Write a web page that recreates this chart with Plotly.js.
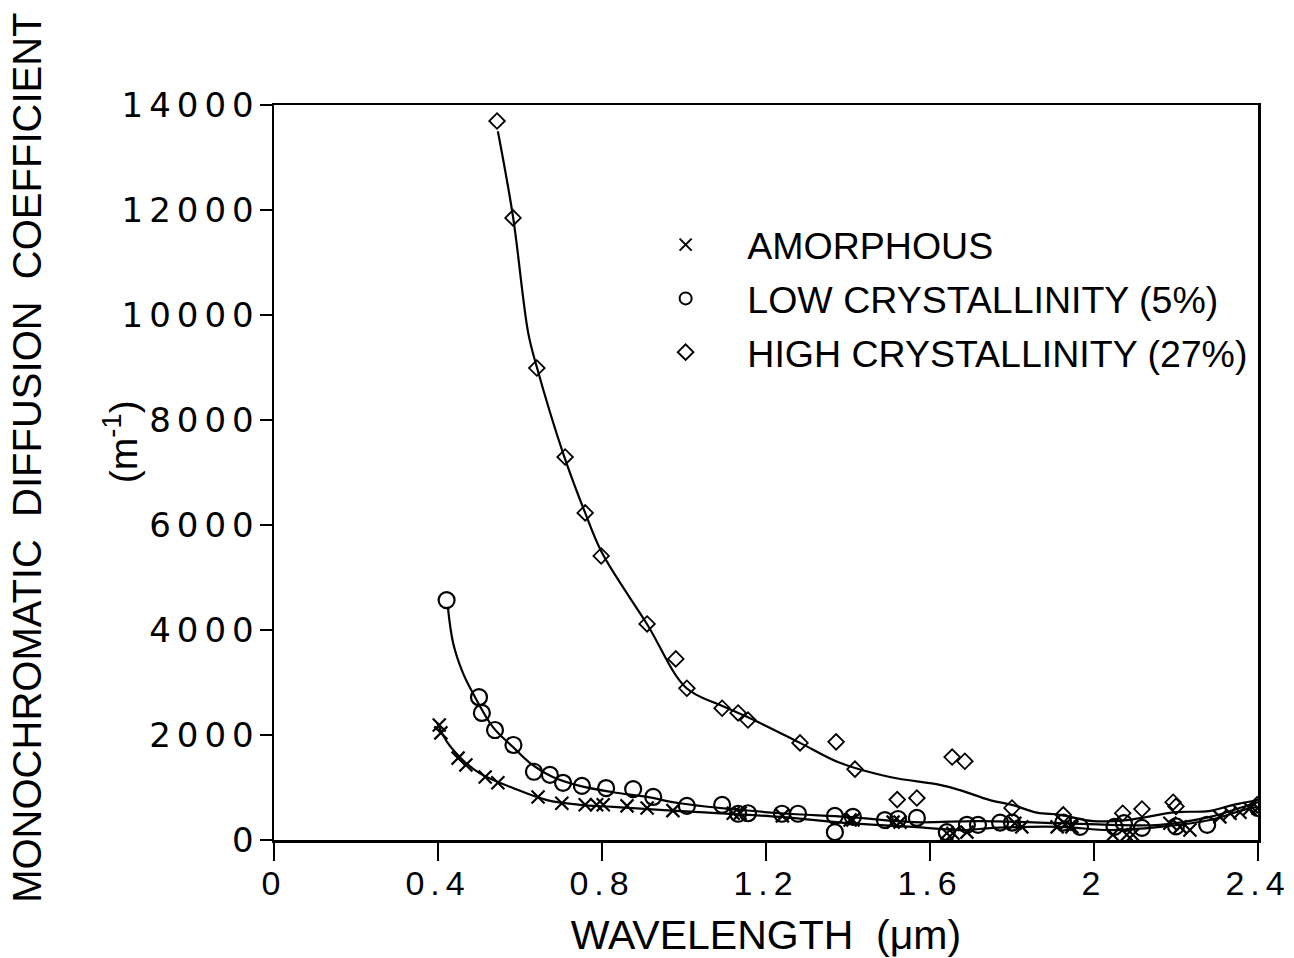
<!DOCTYPE html>
<html>
<head>
<meta charset="utf-8">
<script src="https://cdn.plot.ly/plotly-3.0.1.min.js"></script>
<style>
html,body{margin:0;padding:0;background:#fff;}
#chart{width:1294px;height:958px;}
.ytick text{letter-spacing:6px;}
.xtick text{letter-spacing:6px;}
</style>
</head>
<body>
<div id="chart"></div>
<script>
// Measured points
const amorphousX = [0.403,0.407,0.449,0.468,0.515,0.546,0.644,0.702,0.759,0.787,0.803,0.861,0.91,0.973,1.12,1.137,1.24,1.405,1.412,1.51,1.527,1.641,1.656,1.69,1.807,1.824,1.91,1.93,1.946,2.046,2.08,2.095,2.185,2.21,2.234,2.307,2.332,2.356,2.38,2.4];
const amorphousY = [2190,2040,1560,1430,1200,1090,820,700,670,670,670,650,610,560,510,510,460,380,380,340,340,130,130,150,320,250,250,300,250,100,100,100,320,250,190,440,510,530,600,610];

const lowX = [0.421,0.5,0.507,0.539,0.584,0.634,0.673,0.705,0.751,0.81,0.876,0.925,1.007,1.093,1.132,1.156,1.239,1.278,1.368,1.368,1.412,1.49,1.522,1.568,1.641,1.69,1.717,1.771,1.80,1.925,1.966,2.05,2.073,2.117,2.2,2.276,2.4];
const lowY = [4570,2720,2420,2095,1810,1300,1240,1090,1030,990,970,820,650,670,500,510,500,500,460,150,440,380,400,420,150,290,290,330,330,330,250,250,320,230,260,290,610];

const highX = [0.544,0.583,0.641,0.71,0.759,0.798,0.91,0.98,1.007,1.093,1.132,1.156,1.283,1.371,1.417,1.52,1.568,1.654,1.685,1.80,1.925,2.07,2.117,2.193,2.2,2.398];
const highY = [13695,11850,8990,7295,6230,5410,4115,3450,2890,2510,2420,2285,1850,1870,1350,770,800,1580,1500,610,480,510,590,720,640,670];

// Fitted curves
const highFitX = [0.546,0.583,0.62,0.641,0.705,0.759,0.8,0.91,1.005,1.088,1.161,1.283,1.38,1.502,1.624,1.673,1.746,1.80,1.861,1.917,1.998,2.08,2.2,2.28,2.34,2.4];
const highFitY = [13500,11870,9660,9010,7370,6230,5470,4110,2900,2570,2320,1850,1470,1200,1050,950,760,670,520,480,360,380,530,550,670,760];

const lowFitX = [0.424,0.437,0.461,0.485,0.534,0.583,0.624,0.68,0.746,0.827,0.91,0.99,1.234,1.398,1.559,1.722,1.917,2.039,2.161,2.283,2.363,2.4];
const lowFitY = [4440,3750,3180,2800,2150,1770,1470,1200,1030,910,820,700,510,440,340,360,320,290,290,440,630,720];

const amorphousFitX = [0.398,0.422,0.461,0.502,0.583,0.666,0.746,0.827,0.99,1.234,1.398,1.559,1.68,1.754,1.917,2.039,2.161,2.283,2.363,2.4];
const amorphousFitY = [2230,1870,1520,1270,990,760,670,630,550,440,320,250,190,230,250,190,250,380,570,630];

const seriesNames = ['AMORPHOUS','LOW CRYSTALLINITY (5%)','HIGH CRYSTALLINITY (27%)'];
const xTicks = [0,0.4,0.8,1.2,1.6,2,2.4];
const yTicks = [0,2000,4000,6000,8000,10000,12000,14000];

const fitLine = {color:'#000', width:2.2, shape:'spline', smoothing:1};
const pad = '\u00a0\u00a0\u00a0\u00a0';

const traces = [
  {x:amorphousFitX, y:amorphousFitY, mode:'lines', line:fitLine, showlegend:false, hoverinfo:'skip'},
  {x:lowFitX, y:lowFitY, mode:'lines', line:fitLine, showlegend:false, hoverinfo:'skip'},
  {x:highFitX, y:highFitY, mode:'lines', line:fitLine, showlegend:false, hoverinfo:'skip'},
  {x:amorphousX, y:amorphousY, mode:'markers', name:pad+seriesNames[0], legendgroup:'a',
   marker:{symbol:'x-thin-open', size:13, color:'#000', line:{color:'#000', width:2.2}}},
  {x:lowX, y:lowY, mode:'markers', name:pad+seriesNames[1], legendgroup:'b',
   marker:{symbol:'circle-open', size:16, color:'#000', line:{color:'#000', width:2.2}}},
  {x:highX, y:highY, mode:'markers', name:pad+seriesNames[2], legendgroup:'c',
   marker:{symbol:'diamond-open', size:12, color:'#000', line:{color:'#000', width:1.8}}}
];

const layout = {
  width:1294, height:958,
  margin:{l:274, r:36, t:105, b:118},
  paper_bgcolor:'#fff', plot_bgcolor:'#fff',
  font:{family:'Liberation Sans, Arial, sans-serif', color:'#000'},
  showlegend:true,
  legend:{x:0.398, y:0.852, xanchor:'left', yanchor:'top', bgcolor:'rgba(0,0,0,0)',
    font:{family:'Liberation Sans, Arial, sans-serif', size:37.5, color:'#000'},
    traceorder:'grouped', tracegroupgap:2, itemsizing:'constant'},
  xaxis:{range:[0,2.4], tickvals:xTicks, ticktext:xTicks.map(String), ticks:'outside', ticklen:18, tickwidth:2.5,
    tickcolor:'#000', showline:true, linecolor:'#000', linewidth:2.5, mirror:true, showgrid:false, zeroline:false,
    ticklabelstandoff:-6,
    tickfont:{family:'Liberation Sans, Arial, sans-serif', size:34, color:'#000'},
    title:{text:'WAVELENGTH  (\u03bcm)', font:{family:'Liberation Sans, Arial, sans-serif', size:41, color:'#000'}}},
  yaxis:{range:[0,14000], tickvals:yTicks, ticktext:yTicks.map(String), ticks:'outside', ticklen:12, tickwidth:2,
    tickcolor:'#000', showline:true, linecolor:'#000', linewidth:2.5, mirror:true, showgrid:false, zeroline:false,
    ticklabelstandoff:-7,
    tickfont:{family:'DejaVu Sans, sans-serif', size:34, color:'#000'}},
  annotations:[
    {text:'MONOCHROMATIC  DIFFUSION  COEFFICIENT', xref:'paper', yref:'paper', x:-0.251, y:0.52, textangle:-90, showarrow:false,
     xanchor:'center', yanchor:'middle', font:{family:'Liberation Sans, Arial, sans-serif', size:40, color:'#000'}},
    {text:'(m<sup>-1</sup>)', xref:'paper', yref:'paper', x:-0.156, y:0.542, textangle:-90, showarrow:false,
     xanchor:'center', yanchor:'middle', font:{family:'Liberation Sans, Arial, sans-serif', size:39, color:'#000'}}
  ]
};

Plotly.newPlot('chart', traces, layout, {staticPlot:true, displayModeBar:false});
</script>
</body>
</html>
